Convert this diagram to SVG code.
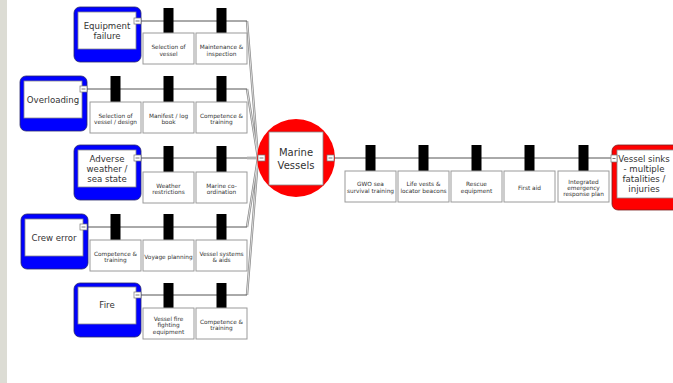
<svg xmlns="http://www.w3.org/2000/svg" width="673" height="383" viewBox="0 0 673 383">
<style>
.t{font-family:"DejaVu Sans",Verdana,sans-serif;fill:#333;text-anchor:middle}
.n{font-size:8.6px}
.m{font-size:10px}
.s{font-size:5.8px}
.blue{fill:#0000ff;stroke:#2a2a6a;stroke-width:0.8}
.red{fill:#ff0000;stroke:#7a2020;stroke-width:0.8}
.inner{fill:#fff;stroke:#888;stroke-width:0.8}
.bx{fill:#fff;stroke:#9a9a9a;stroke-width:1}
.bar{fill:#000}
.row{stroke:#555;stroke-width:1;fill:none}
.c1{stroke:#8a8a8a;stroke-width:2.4;fill:none}
.c2{stroke:#fff;stroke-width:0.7;fill:none}
.ic{fill:#fff;stroke:#777;stroke-width:0.7}
.icl{stroke:#555;stroke-width:0.8}
</style>
<rect x="0" y="0" width="673" height="383" fill="#fff"/>
<rect x="0" y="0" width="7" height="383" fill="#dcdcd4"/>

<g id="connectors">
<path class="c1" d="M247 21 L258 158 M247 89 L258 158 M247 158 L258 158 M247 227 L258 158 M247 295 L258 158"/>
<path class="c2" d="M247 21 L258 158 M247 89 L258 158 M247 158 L258 158 M247 227 L258 158 M247 295 L258 158"/>
<path class="row" d="M141 21 H247 M87 89 H247 M140 158 H247 M87 227 H247 M140 295 H247 M334 158 H612"/>
</g>

<g id="barriers">
<rect class="bar" x="163.5" y="8" width="10" height="25"/>
<rect class="bar" x="216.5" y="8" width="10" height="25"/>
<rect class="bar" x="110.5" y="76" width="10" height="26"/>
<rect class="bar" x="163.5" y="76" width="10" height="26"/>
<rect class="bar" x="216.5" y="76" width="10" height="26"/>
<rect class="bar" x="163.5" y="146" width="10" height="26"/>
<rect class="bar" x="216.5" y="146" width="10" height="26"/>
<rect class="bar" x="110.5" y="214" width="10" height="26"/>
<rect class="bar" x="163.5" y="214" width="10" height="26"/>
<rect class="bar" x="216.5" y="214" width="10" height="26"/>
<rect class="bar" x="163.5" y="283" width="10" height="25"/>
<rect class="bar" x="216.5" y="283" width="10" height="25"/>
<rect class="bar" x="365.5" y="145" width="10" height="26"/>
<rect class="bar" x="418.5" y="145" width="10" height="26"/>
<rect class="bar" x="471.5" y="145" width="10" height="26"/>
<rect class="bar" x="524.5" y="145" width="10" height="26"/>
<rect class="bar" x="578.5" y="145" width="10" height="26"/>
</g>

<g id="node-equipment-failure">
<rect class="blue" x="74" y="7" width="67" height="55" rx="6"/>
<rect class="inner" x="78" y="12" width="58" height="37"/>
<text class="t n" x="107" y="28.5">Equipment</text>
<text class="t n" x="107" y="38.5">failure</text>
<rect class="ic" x="134" y="18" width="7" height="6"/><line class="icl" x1="135.5" y1="21" x2="139.5" y2="21"/>
</g>
<g id="b-ef-1"><rect class="bx" x="143" y="33" width="51" height="31"/><text class="t s" x="168.5" y="49">Selection of</text><text class="t s" x="168.5" y="55.5">vessel</text></g>
<g id="b-ef-2"><rect class="bx" x="196" y="33" width="51" height="31"/><text class="t s" x="221.5" y="49">Maintenance &amp;</text><text class="t s" x="221.5" y="55.5">inspection</text></g>

<g id="node-overloading">
<rect class="blue" x="20" y="76" width="67" height="55" rx="6"/>
<rect class="inner" x="24" y="81" width="58" height="37"/>
<text class="t n" x="53" y="102.5">Overloading</text>
<rect class="ic" x="80" y="86" width="7" height="6"/><line class="icl" x1="81.5" y1="89" x2="85.5" y2="89"/>
</g>
<g id="b-ov-1"><rect class="bx" x="90" y="102" width="51" height="31"/><text class="t s" x="115.5" y="117.5">Selection of</text><text class="t s" x="115.5" y="124">vessel / design</text></g>
<g id="b-ov-2"><rect class="bx" x="143" y="102" width="51" height="31"/><text class="t s" x="168.5" y="117.5">Manifest / log</text><text class="t s" x="168.5" y="124">book</text></g>
<g id="b-ov-3"><rect class="bx" x="196" y="102" width="51" height="31"/><text class="t s" x="221.5" y="117.5">Competence &amp;</text><text class="t s" x="221.5" y="124">training</text></g>

<g id="node-adverse-weather">
<rect class="blue" x="74" y="145" width="67" height="55" rx="6"/>
<rect class="inner" x="78" y="150" width="58" height="37"/>
<text class="t n" x="107" y="161.5">Adverse</text>
<text class="t n" x="107" y="171.5">weather /</text>
<text class="t n" x="107" y="181.5">sea state</text>
<rect class="ic" x="134" y="155" width="7" height="6"/><line class="icl" x1="135.5" y1="158" x2="139.5" y2="158"/>
</g>
<g id="b-aw-1"><rect class="bx" x="143" y="172" width="51" height="31"/><text class="t s" x="168.5" y="187.5">Weather</text><text class="t s" x="168.5" y="194">restrictions</text></g>
<g id="b-aw-2"><rect class="bx" x="196" y="172" width="51" height="31"/><text class="t s" x="221.5" y="187.5">Marine co-</text><text class="t s" x="221.5" y="194">ordination</text></g>

<g id="node-crew-error">
<rect class="blue" x="21" y="214" width="67" height="55" rx="6"/>
<rect class="inner" x="25" y="219" width="58" height="37"/>
<text class="t n" x="54" y="240.5">Crew error</text>
<rect class="ic" x="80" y="224" width="7" height="6"/><line class="icl" x1="81.5" y1="227" x2="85.5" y2="227"/>
</g>
<g id="b-ce-1"><rect class="bx" x="90" y="240" width="51" height="31"/><text class="t s" x="115.5" y="255.5">Competence &amp;</text><text class="t s" x="115.5" y="262">training</text></g>
<g id="b-ce-2"><rect class="bx" x="143" y="240" width="51" height="31"/><text class="t s" x="168.5" y="258.5">Voyage planning</text></g>
<g id="b-ce-3"><rect class="bx" x="196" y="240" width="51" height="31"/><text class="t s" x="221.5" y="255.5">Vessel systems</text><text class="t s" x="221.5" y="262">&amp; aids</text></g>

<g id="node-fire">
<rect class="blue" x="74" y="283" width="67" height="54" rx="6"/>
<rect class="inner" x="78" y="287" width="58" height="37"/>
<text class="t n" x="107" y="307.5">Fire</text>
<rect class="ic" x="134" y="292" width="7" height="6"/><line class="icl" x1="135.5" y1="295" x2="139.5" y2="295"/>
</g>
<g id="b-fi-1"><rect class="bx" x="143" y="308" width="51" height="31"/><text class="t s" x="168.5" y="320.5">Vessel fire</text><text class="t s" x="168.5" y="327">fighting</text><text class="t s" x="168.5" y="333.5">equipment</text></g>
<g id="b-fi-2"><rect class="bx" x="196" y="308" width="51" height="31"/><text class="t s" x="221.5" y="323.5">Competence &amp;</text><text class="t s" x="221.5" y="330">training</text></g>

<g id="node-marine-vessels">
<circle fill="#ff0000" cx="296" cy="158" r="39"/>
<rect class="inner" x="269" y="132" width="54" height="53"/>
<text class="t m" x="296" y="156">Marine</text>
<text class="t m" x="296" y="168.5">Vessels</text>
<rect class="ic" x="258" y="155" width="7" height="6"/><line class="icl" x1="259.5" y1="158" x2="263.5" y2="158"/>
<rect class="ic" x="327" y="155" width="7" height="6"/><line class="icl" x1="328.5" y1="158" x2="332.5" y2="158"/>
</g>

<g id="b-r-1"><rect class="bx" x="345" y="171" width="51" height="31"/><text class="t s" x="370.5" y="186">GWO sea</text><text class="t s" x="370.5" y="192.5">survival training</text></g>
<g id="b-r-2"><rect class="bx" x="398" y="171" width="51" height="31"/><text class="t s" x="423.5" y="186">Life vests &amp;</text><text class="t s" x="423.5" y="192.5">locator beacons</text></g>
<g id="b-r-3"><rect class="bx" x="451" y="171" width="51" height="31"/><text class="t s" x="476.5" y="186">Rescue</text><text class="t s" x="476.5" y="192.5">equipment</text></g>
<g id="b-r-4"><rect class="bx" x="504" y="171" width="51" height="31"/><text class="t s" x="529.5" y="190">First aid</text></g>
<g id="b-r-5"><rect class="bx" x="558" y="171" width="51" height="31"/><text class="t s" x="583.5" y="183.5">Integrated</text><text class="t s" x="583.5" y="189.5">emergency</text><text class="t s" x="583.5" y="195.5">response plan</text></g>

<g id="node-vessel-sinks">
<rect class="red" x="612" y="145" width="72" height="65" rx="6"/>
<rect class="inner" x="617" y="150" width="64" height="48"/>
<text class="t n" x="644" y="162">Vessel sinks</text>
<text class="t n" x="644" y="172">- multiple</text>
<text class="t n" x="644" y="182">fatalities /</text>
<text class="t n" x="644" y="192">injuries</text>
<rect class="ic" x="611" y="155" width="6" height="7"/><line class="icl" x1="612.5" y1="158.5" x2="615.5" y2="158.5"/>
</g>
</svg>
